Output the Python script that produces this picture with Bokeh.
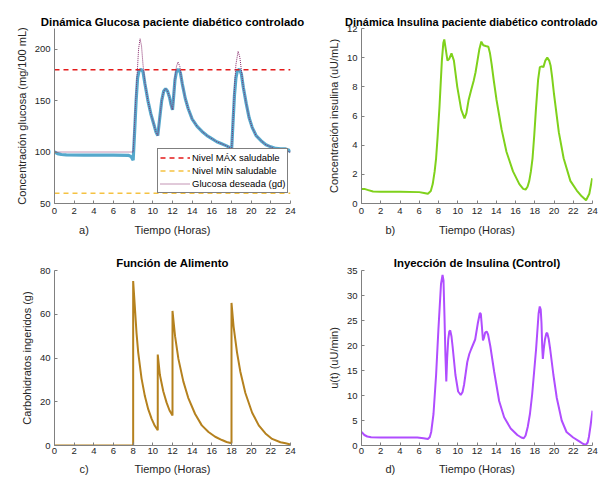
from bokeh.plotting import figure
from bokeh.models import Range1d, FixedTicker, Legend, LegendItem, LinearAxis
from bokeh.layouts import column, row
from bokeh.embed import file_html
from bokeh.resources import INLINE

# ---------------- data ----------------
hours = [0, 24]
hour_ticks = list(range(0, 25, 2))

glu_max = 180
glu_min = 60

glu_t = [0, 0.3, 0.7, 1.2, 3, 6, 7.5, 7.8, 8.0, 8.15, 8.3, 8.45, 8.6, 8.8, 9.0, 9.2,
         9.5, 9.8, 10.1, 10.3, 10.5, 10.7, 10.9, 11.1, 11.3, 11.5, 11.7, 11.85, 12.0,
         12.1, 12.25, 12.4, 12.6, 12.8, 13.0, 13.3, 13.6, 14.0, 14.5, 15.0, 15.5, 16.0,
         16.5, 17.0, 17.5, 17.9, 18.0, 18.15, 18.3, 18.45, 18.6, 18.8, 19.0, 19.2,
         19.5, 19.8, 20.1, 20.5, 21.0, 21.5, 22.0, 22.5, 23.0, 23.5, 23.8, 24.0]
glu_v = [100, 98.5, 97.6, 97.2, 97.0, 97.0, 96.8, 95.5, 92, 120, 150, 172, 179, 180.5, 178, 166,
         150, 137, 127, 120, 116, 133, 150, 159, 161.6, 159, 153, 146, 141,
         152, 170, 178, 180.5, 177, 166, 152, 142, 132, 125, 120, 116, 113,
         110, 108, 106, 104, 100, 128, 155, 172, 179, 180.5, 176, 163,
         147, 133, 124, 116, 111, 107, 105, 103.5, 103, 103, 102, 100]

gd_t = [0, 8.0, 8.2, 8.4, 8.55, 8.7, 8.85, 9.0, 9.2, 9.5, 9.8, 10.1, 10.3, 10.5, 10.7,
        10.9, 11.1, 11.3, 11.5, 11.7, 11.85, 12.0, 12.1, 12.25, 12.4, 12.56, 12.75, 12.9,
        13.0, 13.3, 13.6, 14.0, 14.5, 15.0, 15.5, 16.0, 16.5, 17.0, 17.5, 17.9, 18.0,
        18.15, 18.3, 18.45, 18.67, 18.85, 19.0, 19.2, 19.5, 19.8, 20.1, 20.5, 21.0,
        21.5, 22.0, 22.5, 23.0, 23.5, 24.0]
gd_v = [100, 100, 140, 175, 200, 210, 203, 185, 167, 150, 137, 127, 120, 116, 133,
        150, 159, 161.6, 159, 153, 146, 141, 152, 172, 183, 187.5, 183, 172,
        166, 152, 142, 132, 125, 120, 116, 113, 110, 108, 106, 104, 100,
        130, 162, 185, 197.8, 192, 180, 163, 147, 133, 124, 116, 111,
        107, 105, 102.5, 101.5, 101, 100]

ins_t = [0, 0.3, 0.7, 1.2, 2, 4, 6, 6.5, 6.9, 7.2, 7.4, 7.6, 7.75, 7.9, 8.1, 8.35,
         8.5, 8.6, 8.75, 8.93, 9.1, 9.35, 9.6, 9.95, 10.36, 10.7, 10.9, 11.13, 11.4,
         11.65, 11.85, 12.05, 12.25, 12.45, 12.65, 12.9, 13.18, 13.35, 13.52, 13.75,
         14.03, 14.55, 15.06, 15.74, 16.4, 16.8, 17.05, 17.25, 17.43, 17.6, 17.77,
         17.95, 18.12, 18.35, 18.53, 18.73, 18.9, 19.1, 19.3, 19.5, 19.65, 19.8,
         19.99, 20.5, 21.0, 21.7, 22.37, 22.88, 23.33, 23.67, 23.97]
ins_v = [1.0, 1.0, 0.92, 0.82, 0.8, 0.8, 0.78, 0.72, 0.67, 0.85, 1.33, 2.2, 3.1, 4.5, 6.6, 9.8,
         11.0, 11.25, 10.6, 9.8, 9.9, 10.3, 9.8, 8.0, 6.44, 5.84, 6.2, 7.1, 7.8,
         8.4, 9.0, 9.8, 10.6, 11.1, 10.85, 10.8, 10.75, 10.3, 9.56, 8.4,
         7.1, 5.1, 3.55, 2.2, 1.33, 1.0, 0.95, 1.15, 1.55, 2.2, 3.1,
         4.7, 6.44, 8.5, 9.35, 9.4, 9.35, 9.8, 10.0, 9.8, 9.44, 8.7,
         7.56, 4.89, 3.1, 1.55, 0.89, 0.49, 0.22, 0.67, 1.73]

carb_t = [0, 8.0, 8.0, 8.17, 8.34, 8.51, 8.85, 9.19, 9.53, 9.88, 10.2, 10.5, 10.5,
          10.72, 11.06, 11.4, 11.7, 12.0, 12.0, 12.26, 12.6, 13.1, 13.6, 14.3, 14.98,
          15.66, 16.34, 17.03, 17.5, 18.0, 18.0, 18.21, 18.56, 18.9, 19.41, 20.09,
          20.77, 21.45, 22.13, 22.98, 23.5, 24.0]
carb_v = [0, 0, 75.2, 63.4, 51.5, 42.6, 30.7, 22.6, 16.6, 12.2, 9.0, 7.0, 41.6,
          32.2, 24.8, 19.6, 16.0, 13.7, 61.5, 50.0, 39.6, 29.3, 21.8, 14.4, 9.2,
          6.2, 4.0, 2.5, 1.6, 1.0, 65.2, 54.5, 42.6, 33.7, 24.0, 15.1,
          9.2, 5.5, 3.0, 1.5, 1.0, 0.5]

u_t = [0, 0.3, 0.6, 1.0, 2, 4, 5.8, 6.45, 6.9, 7.1, 7.24, 7.48, 7.75, 7.99, 8.26, 8.42,
       8.52, 8.62, 8.72, 8.81, 8.9, 9.01, 9.12, 9.22, 9.35, 9.46, 9.76, 10.04, 10.31,
       10.5, 10.66, 10.99, 11.2, 11.4, 11.81, 12.09, 12.3, 12.4, 12.5, 12.62, 12.72,
       12.85, 13.0, 13.15, 13.38, 13.79, 14.3, 14.82, 15.5, 16.19, 16.6, 16.86, 17.05,
       17.27, 17.5, 17.73, 18.14, 18.4, 18.52, 18.62, 18.7, 18.78, 18.84, 18.95, 19.06,
       19.2, 19.3, 19.45, 19.6, 19.94, 20.29, 20.8, 21.3, 21.99, 22.67, 23.0, 23.29,
       23.5, 23.63, 23.8, 24.0]
u_v = [2.73, 2.1, 1.8, 1.65, 1.62, 1.62, 1.6, 1.44, 1.3, 1.7, 2.7, 6.3, 14.1, 23.2, 32.3, 34.1,
       33.0, 26.0, 18.0, 12.8, 17.5, 21.2, 22.8, 23.0, 21.8, 19.9, 14.1, 10.8, 10.1,
       10.7, 12.2, 16.7, 18.3, 19.3, 21.2, 24.5, 26.5, 26.3, 24.0, 21.0, 21.5,
       22.6, 22.8, 22.2, 19.9, 14.7, 8.9, 5.65, 3.4, 2.1, 1.6, 1.44, 2.0,
       3.7, 6.3, 10.2, 19.3, 26.4, 27.8, 27.2, 24.5, 19.5, 17.3, 19.5, 21.2,
       22.4, 22.5, 21.3, 19.3, 14.1, 9.5, 5.0, 2.7, 1.6, 0.78, 0.35, 0.1,
       0.6, 1.75, 4.0, 6.95]

FONT = "Liberation Sans"
AX = "#808080"
TXT = "#262626"
XLABEL = "Tiempo (Horas)"
TAG_AT = 3        # hour under which the panel letter sits
XLABEL_AT = 12    # hour under which the x-axis title is centred


def make_fig(w, h, ml, mr, mt, mb, title, ylabel, yr, yticks, xstand, tstand, tag, capstand):
    p = figure(width=w, height=h, output_backend="svg", toolbar_location=None,
               x_range=Range1d(0, 24), y_range=Range1d(*yr),
               min_border_left=ml, min_border_right=mr,
               min_border_top=mt, min_border_bottom=mb, title=title)
    p.outline_line_color = None
    p.grid.visible = False
    p.background_fill_color = "white"
    p.border_fill_color = "white"
    p.title.align = "center"
    p.title.text_font = FONT
    p.title.text_font_size = "11.4px"
    p.title.text_font_style = "bold"
    p.title.text_color = "black"
    p.title.standoff = tstand
    for ax in (p.xaxis, p.yaxis):
        ax.axis_line_color = AX
        ax.axis_line_width = 1
        ax.major_tick_line_color = AX
        ax.major_tick_in = 3
        ax.major_tick_out = 0
        ax.minor_tick_line_color = None
        ax.major_label_text_font = FONT
        ax.major_label_text_font_size = "9.5px"
        ax.major_label_text_color = TXT
        ax.axis_label_text_font = FONT
        ax.axis_label_text_font_size = "11px"
        ax.axis_label_text_font_style = "normal"
        ax.axis_label_text_color = TXT
        ax.axis_label_standoff = 4
    p.xaxis.ticker = FixedTicker(ticks=hour_ticks)
    p.yaxis.ticker = FixedTicker(ticks=yticks)
    p.xaxis.major_label_standoff = xstand
    p.yaxis.major_label_standoff = 4
    p.yaxis.axis_label = ylabel
    # caption row (panel letter + x title) as a second, line-less axis below
    cap = LinearAxis(ticker=FixedTicker(ticks=[TAG_AT, XLABEL_AT]),
                     major_label_overrides={TAG_AT: tag, XLABEL_AT: XLABEL},
                     axis_line_color=None, major_tick_line_color=None,
                     minor_tick_line_color=None, major_label_standoff=capstand,
                     major_label_text_font=FONT, major_label_text_font_size="11px",
                     major_label_text_color=TXT)
    p.add_layout(cap, "below")
    return p


LW, RW = 307, 291
H1, H2 = 238, 239

# a) glucose
pa = make_fig(LW, H1, 54, 17, 28, 34,
              "Dinámica Glucosa paciente diabético controlado",
              "Concentración glucosa (mg/100 mL)", (50, 220), [50, 100, 150, 200], 4, 1, "a)", 1)
pa.line(glu_t, glu_v, line_color="#55a8cc", line_width=3.2)
r_max = pa.line(hours, [glu_max, glu_max], line_color="#e41a1a", line_width=1.5, line_dash="5 4")
r_min = pa.line(hours, [glu_min, glu_min], line_color="#f5c242", line_width=1.5, line_dash="5 4")
r_gd = pa.line(gd_t, gd_v, line_color="#86286a", line_width=1, line_dash="1 1")
leg = Legend(items=[LegendItem(label="Nivel MÁX saludable", renderers=[r_max]),
                    LegendItem(label="Nivel MÍN saludable", renderers=[r_min]),
                    LegendItem(label="Glucosa deseada (gd)", renderers=[r_gd])],
             location=(103, 10), padding=2, margin=0, spacing=0,
             label_height=13, glyph_height=13, glyph_width=30, label_standoff=2,
             label_text_font=FONT, label_text_font_size="9.5px", label_text_color="black",
             border_line_color="black", border_line_width=1,
             background_fill_color="white", background_fill_alpha=1)
pa.add_layout(leg)

# b) insulin
pb = make_fig(RW, H1, 54, 6, 28, 34,
              "Dinámica Insulina paciente diabético controlado",
              "Concentración insulina (uU/mL)", (0, 12), [0, 2, 4, 6, 8, 10, 12], 4, 1, "b)", 1)
pb.title.align = "right"
pb.title.offset = -5
pb.title.text_font_size = "11px"
pb.line(ins_t, ins_v, line_color="#7fd11b", line_width=2)

# c) food
pc = make_fig(LW, H2, 54, 17, 32, 31, "Función de Alimento",
              "Carbohidratos ingeridos (g)", (0, 80), [0, 20, 40, 60, 80], 2, 3, "c)", 0)
pc.line(carb_t, carb_v, line_color="#b5811e", line_width=2)

# d) control
pd_ = make_fig(RW, H2, 54, 6, 32, 31, "Inyección de Insulina (Control)",
               "u(t) (uU/min)", (0, 35), [0, 5, 10, 15, 20, 25, 30, 35], 2, 3, "d)", 0)
pd_.line(u_t, u_v, line_color="#b04dff", line_width=2)

layout = column(row(pa, pb), row(pc, pd_))
open("out.html", "w").write(file_html(layout, INLINE))
